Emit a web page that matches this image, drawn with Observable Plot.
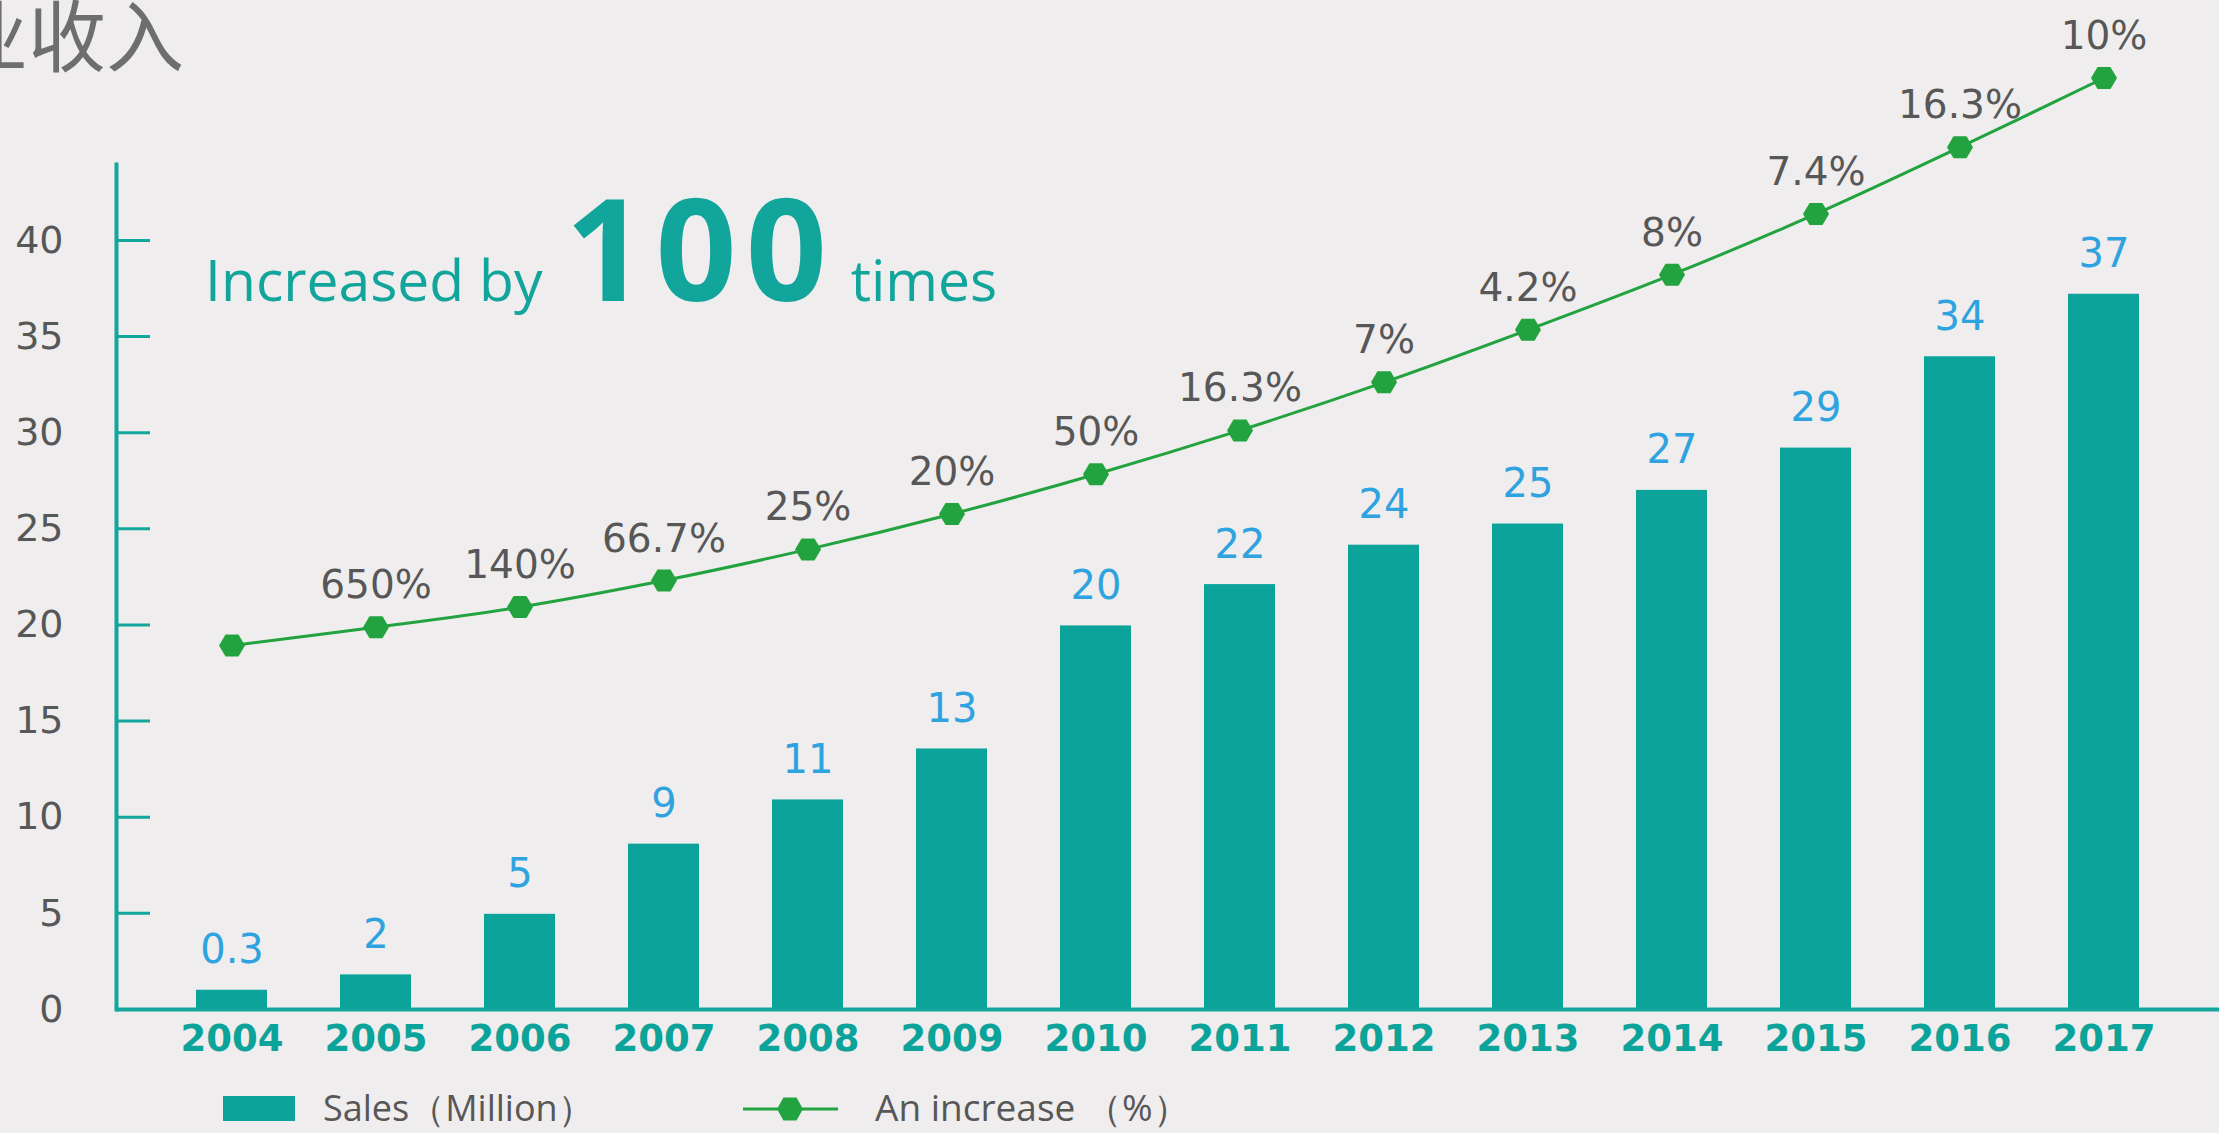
<!DOCTYPE html>
<html>
<head>
<meta charset="utf-8">
<script src="https://cdn.jsdelivr.net/npm/d3@7"></script>
<script src="https://cdn.jsdelivr.net/npm/@observablehq/plot@0.6"></script>
<style>
  html, body { margin: 0; padding: 0; background: #efeded; overflow: hidden; }
  #wrap { position: relative; width: 2219px; height: 1133px; overflow: hidden; }
  #overlay { position: absolute; left: 0; top: 0; pointer-events: none; }
  #legend { display: block; }
</style>
</head>
<body>
<div id="wrap"></div>
<script>
// ---- data ----
const years = ["2004","2005","2006","2007","2008","2009","2010","2011","2012","2013","2014","2015","2016","2017"];
// bar heights as drawn (left axis units)
const salesHeights = [1.0, 1.8, 4.95, 8.6, 10.9, 13.55, 19.95, 22.1, 24.15, 25.25, 27.0, 29.2, 33.95, 37.2];
// bar value labels
const salesLabels = ["0.3","2","5","9","11","13","20","22","24","25","27","29","34","37"];
// increase line positions (read against the left axis)
const increasePos = [18.93, 19.88, 20.93, 22.31, 23.93, 25.77, 27.84, 30.12, 32.62, 35.35, 38.22, 41.38, 44.85, 48.45];
// increase labels
const increaseLabels = ["","650%","140%","66.7%","25%","20%","50%","16.3%","7%","4.2%","8%","7.4%","16.3%","10%"];
const yTicks = [0, 5, 10, 15, 20, 25, 30, 35, 40];
const titleText = "业收入";
const annotation = ["Increased by", "100", "times"];
const legendLabels = ["Sales（Million）", "An increase （%）"];

// ---- colours ----
const teal = "#0ba39a";
const axisTeal = "#13a69d";
const green = "#22a33f";
const blue = "#2ea3df";
const gray = "#575757";

const data = years.map((year, i) => ({
  year,
  sales: salesHeights[i],
  salesLabel: salesLabels[i],
  inc: increasePos[i],
  incLabel: increaseLabels[i]
}));

// flat-top hexagon marker
const hexagon = {
  draw(ctx) {
    const w = 13, h = 11;
    ctx.moveTo(-w, 0);
    ctx.lineTo(-w / 2, -h);
    ctx.lineTo(w / 2, -h);
    ctx.lineTo(w, 0);
    ctx.lineTo(w / 2, h);
    ctx.lineTo(-w / 2, h);
    ctx.closePath();
  }
};

const chart = Plot.plot({
  width: 2219,
  height: 1075,
  marginLeft: 116,
  marginRight: 0,
  marginTop: 0,
  marginBottom: 66,
  style: { background: "transparent", fontFamily: "DejaVu Sans", overflow: "visible" },
  x: { type: "band", domain: years, paddingInner: 0.509, paddingOuter: 0.55, axis: null },
  y: { domain: [0, 52.48], axis: null },
  marks: [
    Plot.barY(data, { x: "year", y: "sales", fill: teal }),
    Plot.ruleY([0], { stroke: axisTeal, strokeWidth: 4 }),
    Plot.frame({ anchor: "left", insetTop: 164, stroke: axisTeal, strokeWidth: 4 }),
    Plot.axisY(yTicks, {
      tickSize: 34, dx: 34, tickPadding: 53, label: null,
      stroke: axisTeal, strokeWidth: 3,
      fill: gray, fontSize: 38, fontFamily: "DejaVu Sans"
    }),
    Plot.axisX({
      tickSize: 0, tickPadding: 15, label: null,
      fill: teal, fontSize: 37, fontWeight: "bold", fontFamily: "DejaVu Sans"
    }),
    Plot.text(data, {
      x: "year", y: "sales", text: "salesLabel",
      dy: -27, lineAnchor: "bottom", fill: blue, fontSize: 40, fontFamily: "DejaVu Sans"
    }),
    Plot.line(data, { x: "year", y: "inc", stroke: green, strokeWidth: 3, curve: "catmull-rom" }),
    Plot.dot(data, { x: "year", y: "inc", symbol: hexagon, fill: green, r: 10 }),
    Plot.text(data, {
      x: "year", y: "inc", text: "incLabel",
      dy: -29, lineAnchor: "bottom", fill: gray, fontSize: 39, fontFamily: "DejaVu Sans"
    })
  ]
});

const wrap = document.getElementById("wrap");
wrap.appendChild(chart);

// legend below the chart
const ns = "http://www.w3.org/2000/svg";
function el(tag, attrs, parent, text) {
  const e = document.createElementNS(ns, tag);
  for (const k in attrs) e.setAttribute(k, attrs[k]);
  if (text != null) e.textContent = text;
  parent.appendChild(e);
  return e;
}
const legend = el("svg", { id: "legend", width: 2219, height: 58 }, wrap);
el("rect", { x: 223, y: 21, width: 72, height: 25, fill: teal }, legend);
el("text", { x: 323, y: 46, "font-family": "Open Sans", "font-size": 36, fill: gray }, legend, legendLabels[0]);
el("line", { x1: 743, x2: 838, y1: 34, y2: 34, stroke: green, "stroke-width": 3 }, legend);
el("path", { d: "M-13,0L-6.5,-11.5L6.5,-11.5L13,0L6.5,11.5L-6.5,11.5Z", transform: "translate(790,34)", fill: green }, legend);
el("text", { x: 875, y: 46, "font-family": "Open Sans", "font-size": 37, fill: gray }, legend, legendLabels[1]);

// overlay: title and annotation
const overlay = el("svg", { id: "overlay", width: 2219, height: 1075 }, wrap);
el("text", { x: -50, y: 66, "font-family": "Noto Sans CJK SC", "font-size": 78, fill: "#6e6e6e" }, overlay, titleText);
const ann = el("text", { x: 205, y: 301, fill: "#12a59c", "font-family": "Open Sans" }, overlay);
el("tspan", { "font-size": 57 }, ann, annotation[0] + " ");
el("tspan", { "font-size": 142, "font-weight": "bold", "letter-spacing": 9, dx: 8 }, ann, annotation[1]);
el("tspan", { "font-size": 57 }, ann, " " + annotation[2]);
</script>
</body>
</html>
